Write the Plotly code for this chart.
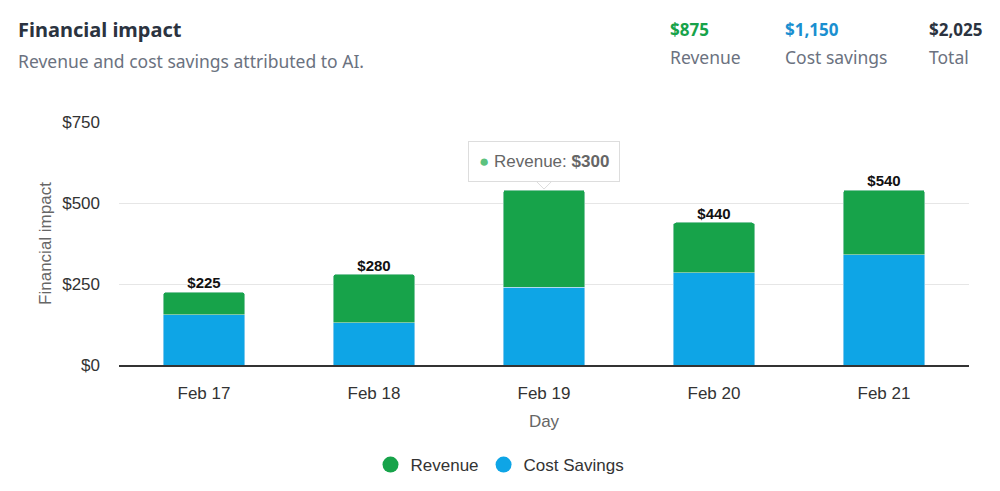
import plotly.graph_objects as go

days = ["Feb 17", "Feb 18", "Feb 19", "Feb 20", "Feb 21"]
revenue = [70, 150, 300, 155, 200]
cost_savings = [155, 130, 240, 285, 340]
y_ticks = [0, 250, 500, 750]
y_tick_labels = ["$0", "$250", "$500", "$750"]
tooltip_index = 2

totals = [r + c for r, c in zip(revenue, cost_savings)]
rev_sum = sum(revenue)
cost_sum = sum(cost_savings)
grand = rev_sum + cost_sum

GREEN = "#17a34a"
BLUE = "#0ea5e6"
W, H = 1000, 491

def px(x):
    return x / W

def py(y):
    return 1 - y / H

fig = go.Figure()
fig.add_trace(go.Bar(x=days, y=cost_savings, name="Cost Savings", marker_color=BLUE,
                     showlegend=False, width=0.48))
fig.add_trace(go.Bar(x=days, y=revenue, name="Revenue", marker_color=GREEN,
                     showlegend=False, width=0.48))
fig.add_trace(go.Scatter(x=days, y=totals, mode="text",
                         text=["" if i == tooltip_index else f"<b>${t}</b>" for i, t in enumerate(totals)],
                         textposition="top center",
                         textfont=dict(family="Liberation Sans, Arial", size=15, color="#111"),
                         showlegend=False, hoverinfo="skip"))
fig.add_trace(go.Scatter(x=[None], y=[None], mode="markers", name="Revenue",
                         marker=dict(color=GREEN, size=16, symbol="circle")))
fig.add_trace(go.Scatter(x=[None], y=[None], mode="markers", name="Cost Savings",
                         marker=dict(color=BLUE, size=16, symbol="circle")))

fig.update_layout(
    width=W, height=H,
    barmode="stack",
    barcornerradius=3,
    paper_bgcolor="white",
    plot_bgcolor="white",
    margin=dict(l=0, r=0, t=0, b=0),
    font=dict(family="Liberation Sans, Arial", color="#333"),
    xaxis=dict(domain=[px(119), px(969)], automargin=False,
               showline=True, linecolor="#333", linewidth=1.5,
               showgrid=False, ticks="", ticklabelstandoff=12,
               tickfont=dict(size=17, color="#333"),
               title=dict(text="Day", font=dict(size=17, color="#666"), standoff=13)),
    yaxis=dict(domain=[py(365), py(122)], automargin=False,
               range=[0, 750], tickvals=y_ticks, ticktext=y_tick_labels,
               showgrid=True, gridcolor="#e6e6e6", gridwidth=1,
               zeroline=False, showline=False, ticks="",
               ticklabelstandoff=18,
               tickfont=dict(size=17, color="#333"),
               title=dict(text="Financial impact", font=dict(size=17, color="#666"), standoff=6)),
    legend=dict(orientation="h", x=0.5, xanchor="center", y=py(465), yanchor="middle",
                font=dict(size=17, color="#333"), traceorder="normal"),
    showlegend=True,
)

header_font = "Noto Sans, Open Sans, sans-serif"
anns = [
    dict(x=px(16), y=py(29), text="<b>Financial impact</b>", font=dict(family=header_font, size=20, color="#2b3340")),
    dict(x=px(16), y=py(61), text="Revenue and cost savings attributed to AI.", font=dict(family=header_font, size=17.5, color="#6b7280")),
    dict(x=px(668), y=py(29), text=f"<b>${rev_sum:,}</b>", font=dict(family=header_font, size=17, color=GREEN)),
    dict(x=px(668), y=py(57), text="Revenue", font=dict(family=header_font, size=17.5, color="#6b7280")),
    dict(x=px(783), y=py(29), text=f"<b>${cost_sum:,}</b>", font=dict(family=header_font, size=17, color="#1a8fd0")),
    dict(x=px(783), y=py(57), text="Cost savings", font=dict(family=header_font, size=17.5, color="#6b7280")),
    dict(x=px(927), y=py(29), text=f"<b>${grand:,}</b>", font=dict(family=header_font, size=17, color="#2b3340")),
    dict(x=px(927), y=py(57), text="Total", font=dict(family=header_font, size=17.5, color="#6b7280")),
]
for a in anns:
    fig.add_annotation(xref="paper", yref="paper", xanchor="left", yanchor="middle",
                       showarrow=False, **a)

# tooltip pointer
fig.add_shape(type="path", xref="x", yref="y", xsizemode="pixel", ysizemode="pixel",
              xanchor=days[tooltip_index], yanchor=totals[tooltip_index],
              path="M -8,9 L 0,1 L 8,9 Z",
              fillcolor="white", line=dict(color="#dddddd", width=1), layer="above")
# tooltip box
fig.add_annotation(x=days[tooltip_index], y=totals[tooltip_index], xref="x", yref="y",
                   yanchor="bottom", yshift=8, showarrow=False,
                   text=f"<span style='color:#5cc27e'>●</span> Revenue: <b>${revenue[tooltip_index]}</b>",
                   font=dict(family="Liberation Sans, Arial", size=17, color="#666"),
                   bgcolor="white", bordercolor="#dddddd", borderwidth=1, borderpad=10)

fig.write_html("out.html", config={"displayModeBar": False},
               post_script="document.body.style.margin='0';")
